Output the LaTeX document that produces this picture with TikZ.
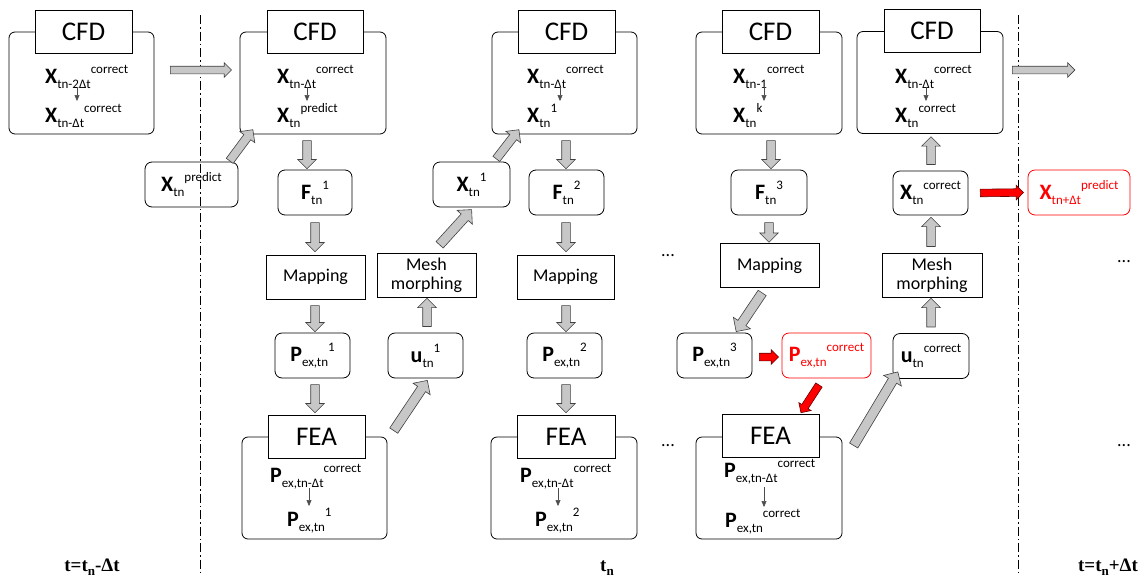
\documentclass[tikz,border=0pt]{standalone}
\usepackage{fontspec}
\setmainfont{Carlito}
\newfontfamily\timesfont{Liberation Serif}
\usetikzlibrary{shapes.arrows,arrows.meta,calc}

% bold symbol followed by subscript and then superscript
\newcommand\valfont{\fontsize{22}{26}\selectfont}
\newcommand\vq[3]{{\bfseries #1}\raisebox{-5pt}{\fontsize{13}{13}\selectfont #2}\raisebox{10pt}{\fontsize{13}{13}\selectfont #3}}
% block arrow between two points
\newcommand\blkarrow[3][blk]{%
  \path let \p1=#2, \p2=#3, \n1={atan2(\y2-\y1,\x2-\x1)}, \n2={veclen(\x2-\x1,\y2-\y1)} in
    node[#1, minimum height=\n2, rotate=\n1] at ($(\p1)!0.5!(\p2)$) {};}

\tikzset{
  outer/.style={draw, line width=0.8pt, rounded corners=6pt, inner sep=0pt, minimum width=146pt, minimum height=102pt},
  tag/.style={draw, fill=white, line width=0.8pt, inner sep=0pt, minimum width=97pt, minimum height=43pt, font=\fontsize{27}{30}\selectfont},
  val/.style={draw, line width=0.8pt, rounded corners=7pt, inner sep=0pt, minimum width=75pt, minimum height=45pt, font=\valfont},
  redval/.style={val, draw=red, text=red},
  proc/.style={draw, line width=0.8pt, inner sep=0pt, minimum width=99pt, minimum height=44pt, align=center, font=\fontsize{18}{19}\selectfont},
  txt/.style={inner sep=0pt, anchor=base west, font=\valfont},
  blk/.style={single arrow, draw=black!75, fill=black!22, line width=0.6pt, inner xsep=0pt, inner ysep=4pt,
    single arrow head extend=5pt, single arrow head indent=0pt, minimum width=0pt},
  wideblk/.style={blk, inner ysep=4.5pt, single arrow head extend=5.5pt},
  flatblk/.style={blk, inner ysep=3.5pt, single arrow head extend=3.5pt},
  redblk/.style={blk, fill=red, draw=black!60!red, inner ysep=3.5pt, single arrow head extend=3.5pt},
  thinarrow/.style={draw=black!70, line width=0.5pt, -{Triangle[length=6pt,width=5pt]}},
  dots/.style={inner sep=0pt, font=\fontsize{18}{18}\selectfont},
  timelabel/.style={inner sep=0pt, anchor=base, font=\timesfont\bfseries\fontsize{19}{20}\selectfont},
  sepline/.style={line width=0.5pt, dash pattern=on 9pt off 3pt on 1.5pt off 3pt}
}
\newcommand\tsub[1]{\raisebox{-4pt}{\fontsize{13}{13}\selectfont #1}}

\begin{document}
\begin{tikzpicture}[x=1pt,y=-1pt]
\useasboundingbox (0,0) rectangle (1142,576);

% time step separators
\coordinate (s1t) at (200,15); \coordinate (s1b) at (200,576);
\coordinate (s2t) at (1018,15); \coordinate (s2b) at (1018,576);
\draw[sepline] (s1t) -- (s1b);
\draw[sepline] (s2t) -- (s2b);

% ---------- previous step ----------
\node[outer, minimum width=145pt] (cfdA) at (81.5,83) {};
\node[tag] (tagA) at (83.5,31.5) {CFD};
\node[txt] (xa1) at (45,83) {\vq{X}{tn-2Δt}{correct}};
\node[txt] (xa2) at (45,122) {\vq{X}{tn-Δt}{correct}};
\draw[thinarrow] ($(xa1.base west)+(32,4)$) -- ($(xa2.base west)+(32,-21)$);

\node[val, minimum width=93pt] (xpA) at (191.5,184.5) {\vq{X}{tn}{predict}};

% ---------- first iteration ----------
\node[outer] (cfdB) at (313,83) {};
\node[tag, minimum width=96pt] (tagB) at (315,31.5) {CFD};
\node[txt] (xb1) at (277,83) {\vq{X}{tn-Δt}{correct}};
\node[txt] (xb2) at (277,122) {\vq{X}{tn}{predict}};
\draw[thinarrow] ($(xb1.base west)+(30,4)$) -- ($(xb2.base west)+(30,-21)$);

\node[val, minimum width=74pt] (f1) at (315,192.5) {\vq{F}{tn}{1}};
\node[proc] (map1) at (315.5,277) {Mapping};
\node[val] (p1) at (312.5,355.5) {\vq{P}{ex,tn}{1}};

\node[outer, minimum width=145pt] (feaB) at (314.5,488) {};
\node[tag] (tagFB) at (316.5,436.5) {FEA};
\node[txt] (pb1) at (270,482) {\vq{P}{ex,tn-Δt}{correct}};
\node[txt] (pb2) at (287,526) {\vq{P}{ex,tn}{1}};
\draw[thinarrow] ($(pb1.base west)+(39,6)$) -- ($(pb2.base west)+(22,-20)$);

\node[val] (u1) at (425.5,355.5) {\vq{u}{tn}{1}};
\node[proc] (mesh1) at (426.5,275) {Mesh\\morphing};
\node[val, minimum width=77pt] (x1) at (471.5,184.5) {\vq{X}{tn}{1}};

% ---------- second iteration ----------
\node[outer, minimum width=145pt] (cfdC) at (564.5,83) {};
\node[tag] (tagC) at (566.5,31.5) {CFD};
\node[txt] (xc1) at (527,83) {\vq{X}{tn-Δt}{correct}};
\node[txt] (xc2) at (527,122) {\vq{X}{tn}{1}};
\draw[thinarrow] ($(xc1.base west)+(33,4)$) -- ($(xc2.base west)+(33,-21)$);

\node[val] (f2) at (566.5,192.5) {\vq{F}{tn}{2}};
\node[proc, minimum width=97pt] (map2) at (565.5,277) {Mapping};
\node[val] (p2) at (564.5,355.5) {\vq{P}{ex,tn}{2}};

\node[outer] (feaC) at (564,488) {};
\node[tag, minimum width=98pt] (tagFC) at (566,436.5) {FEA};
\node[txt] (pc1) at (520,482) {\vq{P}{ex,tn-Δt}{correct}};
\node[txt] (pc2) at (535,526) {\vq{P}{ex,tn}{2}};
\draw[thinarrow] ($(pc1.base west)+(38,6)$) -- ($(pc2.base west)+(23,-20)$);

\node[dots] (dA) at (668,256) {...};
\node[dots] (dB) at (668,446) {...};

% ---------- converged iteration ----------
\node[outer] (cfdD) at (769,83) {};
\node[tag] (tagD) at (770.5,31.5) {CFD};
\node[txt] (xd1) at (733,83) {\vq{X}{tn-1}{correct}};
\node[txt] (xd2) at (733,122) {\vq{X}{tn}{k}};
\draw[thinarrow] ($(xd1.base west)+(31,4)$) -- ($(xd2.base west)+(31,-21)$);

\node[val, minimum width=76pt] (f3) at (769,192.5) {\vq{F}{tn}{3}};
\node[proc] (map3) at (769.5,265.5) {Mapping};
\node[val] (p3) at (714.5,355.5) {\vq{P}{ex,tn}{3}};
\node[redval, minimum width=89pt] (pcor) at (826.5,355.5) {\vq{P}{ex,tn}{correct}};

\node[outer] (feaD) at (769,488) {};
\node[tag] (tagFD) at (770.5,436) {FEA};
\node[txt] (pd1) at (724,477) {\vq{P}{ex,tn-Δt}{correct}};
\node[txt] (pd2) at (725,527) {\vq{P}{ex,tn}{correct}};
\draw[thinarrow] ($(pd1.base west)+(40,10)$) -- ($(pd2.base west)+(39,-20)$);

\node[val, minimum width=76pt] (uc) at (931,356) {\vq{u}{tn}{correct}};
\node[proc, minimum width=100pt] (mesh2) at (932,275) {Mesh\\morphing};
\node[val, minimum height=44pt] (xc) at (930.5,193) {\vq{X}{tn}{correct}};

\node[outer] (cfdE) at (930,82.5) {};
\node[tag, minimum width=96pt] (tagE) at (932,30.5) {CFD};
\node[txt] (xe1) at (895,83) {\vq{X}{tn-Δt}{correct}};
\node[txt] (xe2) at (895,122) {\vq{X}{tn}{correct}};
\draw[thinarrow] ($(xe1.base west)+(31,4)$) -- ($(xe2.base west)+(31,-21)$);

% ---------- next step ----------
\node[redval, minimum width=102pt] (xnext) at (1079,192.5) {\vq{X}{tn+Δt}{predict}};
\node[dots] (dC) at (1124,262) {...};
\node[dots] (dD) at (1124,446) {...};
\coordinate (onward) at (1073,70);

% ---------- time labels ----------
\node[timelabel] (tprev) at (92,571) {t=t\tsub{n}-Δt};
\node[timelabel] (tnow) at (607,571) {t\tsub{n}};
\node[timelabel] (tnext) at (1108,571) {t=t\tsub{n}+Δt};

% ---------- block arrows ----------
\blkarrow[flatblk]{($(cfdA.east)+(14,-13)$)}{($(cfdB.west)+(-10,-13)$)}
\blkarrow[flatblk]{($(cfdE.east)+(7,-12.5)$)}{(onward)}
\blkarrow{($(xpA.north east)+(-10,1)$)}{($(cfdB.south west)+(12,-3)$)}

\blkarrow{($(cfdB.south)+(-6,4)$)}{($(f1.north)+(-8,-3)$)}
\blkarrow{($(f1.south)+(0,5)$)}{($(map1.north)+(-0.5,-5)$)}
\blkarrow{($(map1.south)+(-0.5,4)$)}{($(p1.north)+(2.5,-3)$)}
\blkarrow{($(p1.south)+(2.5,4)$)}{($(tagFB.north)+(-1.5,-4)$)}
\blkarrow[wideblk]{($(feaB.north east)+(5,-4)$)}{($(u1.south)+(0.5,4)$)}
\blkarrow{($(u1.north)+(1.5,-4)$)}{($(mesh1.south)+(0.5,3)$)}
\blkarrow[wideblk]{($(mesh1.north)+(11.5,-6)$)}{($(x1.south)+(-1.5,4)$)}
\blkarrow{($(x1.north)+(23.5,-1)$)}{($(cfdC.south west)+(26,-3)$)}

\blkarrow{($(cfdC.south)+(1.5,4)$)}{($(f2.north)+(-0.5,-3)$)}
\blkarrow{($(f2.south)+(-0.5,5)$)}{($(map2.north)+(0.5,-5)$)}
\blkarrow{($(map2.south)+(0.5,4)$)}{($(p2.north)+(1.5,-3)$)}
\blkarrow{($(p2.south)+(1.5,4)$)}{($(tagFC.north)+(0,-4)$)}

\blkarrow{($(cfdD.south)+(2,4)$)}{($(f3.north)+(2,-3)$)}
\blkarrow{($(f3.south)+(0,5)$)}{($(map3.north)+(-0.5,-3)$)}
\blkarrow[wideblk]{($(map3.south)+(-6,3)$)}{($(p3.north)+(23,-3)$)}
\blkarrow[redblk]{($(p3.east)+(5,1.5)$)}{($(pcor.west)+(-5,1.5)$)}
\blkarrow[redblk]{($(pcor.south)+(-6.5,5)$)}{($(tagFD.north)+(31.5,-3)$)}
\blkarrow[wideblk]{($(feaD.north east)+(10,11)$)}{($(uc.south west)+(4,-5)$)}
\blkarrow{($(uc.north)+(0,-4)$)}{($(mesh2.south)+(-1,3)$)}
\blkarrow{($(mesh2.north)+(-1,-4)$)}{($(xc.south)+(0.5,4)$)}
\blkarrow{($(xc.north)+(0.5,-4)$)}{($(cfdE.south)+(1,5)$)}
\blkarrow[redblk]{($(xc.east)+(10,0)$)}{($(xnext.west)+(-6,0)$)}
\end{tikzpicture}
\end{document}
